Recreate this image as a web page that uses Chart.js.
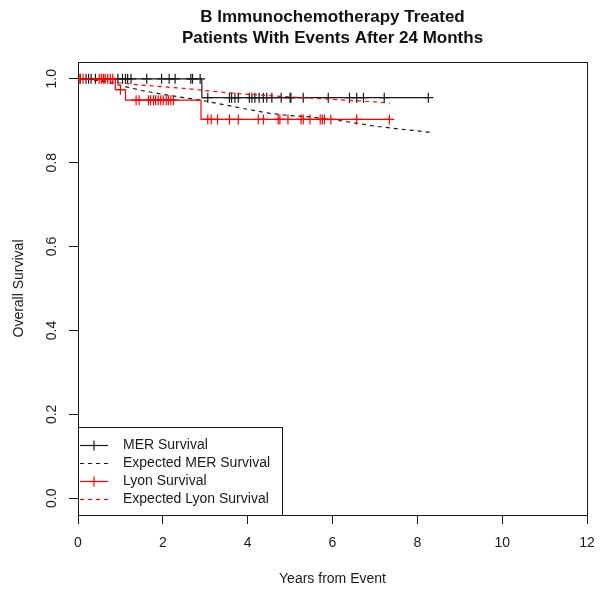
<!DOCTYPE html>
<html>
<head>
<meta charset="utf-8">
<script src="https://cdn.jsdelivr.net/npm/chart.js@4"></script>
<style>
  html, body { margin: 0; padding: 0; background: #fff; }
</style>
</head>
<body>
<canvas id="survChart" width="602" height="591"></canvas>
<script>
// Kaplan-Meier curves: step times (years) and survival after each drop
const merStepTimes = [0, 2.92];
const merStepSurv = [1.0, 0.955];
const merCensorTimes = [0.05, 0.19, 0.25, 0.31, 0.41, 0.94, 1.05, 1.12, 1.17, 1.25, 1.62, 1.97, 2.15, 2.29,
  2.66, 2.70, 2.88, 3.06, 3.57, 3.62, 3.70, 3.78, 4.04, 4.10, 4.17, 4.27, 4.37, 4.45, 4.57, 4.79, 5.00, 5.02,
  5.31, 5.90, 6.40, 6.57, 6.73, 7.22, 8.26];

const lyonStepTimes = [0, 0.88, 1.12, 2.90];
const lyonStepSurv = [1.0, 0.974, 0.949, 0.903];
const lyonCensorTimes = [0.05, 0.12, 0.50, 0.55, 0.60, 0.64, 0.70, 0.76, 0.82, 1.00, 1.37, 1.44, 1.66, 1.71,
  1.78, 1.83, 1.89, 1.95, 2.01, 2.08, 2.13, 2.19, 2.25, 3.06, 3.14, 3.29, 3.57, 3.78, 4.25, 4.37, 4.72, 4.76,
  4.95, 5.26, 5.31, 5.47, 5.71, 5.76, 5.81, 5.96, 6.57, 7.34];

// expected survival (population)
const merExpTimes = [0, 0.25, 0.5, 0.9, 1.0, 1.5, 2.0, 2.5, 3.0, 3.5, 4.0, 4.5, 5.0, 5.5, 6.0, 6.5, 7.0, 7.5, 8.0, 8.3];
const merExpSurv = [1.0, 0.999, 0.995, 0.987, 0.984, 0.972, 0.963, 0.955, 0.947, 0.937, 0.927, 0.918, 0.912, 0.909, 0.903, 0.895, 0.887, 0.881, 0.876, 0.872];
const lyonExpTimes = [0, 0.5, 1.0, 1.5, 2.0, 2.5, 3.0, 3.5, 4.0, 4.5, 5.0, 5.5, 6.0, 6.5, 7.0, 7.35];
const lyonExpSurv = [1.0, 0.997, 0.990, 0.985, 0.981, 0.977, 0.972, 0.967, 0.963, 0.960, 0.957, 0.954, 0.951, 0.948, 0.945, 0.942];

const xTicks = [0, 2, 4, 6, 8, 10, 12];
const yTicks = [0, 0.2, 0.4, 0.6, 0.8, 1.0];

const FONT = "'Liberation Sans', Arial, sans-serif";
const INK = "#1a1a1a";

Chart.defaults.font.family = FONT;
Chart.defaults.color = INK;

function kmPoints(stepTimes, stepSurv, censorTimes) {
  const pts = stepTimes.map((t, i) => ({ x: t, y: stepSurv[i], censor: false }));
  censorTimes.forEach(t => {
    let s = stepSurv[0];
    stepTimes.forEach((st, i) => { if (st <= t) s = stepSurv[i]; });
    pts.push({ x: t, y: s, censor: true });
  });
  pts.sort((a, b) => a.x - b.x || (a.censor - b.censor));
  return pts;
}

function curve(times, surv) {
  return times.map((t, i) => ({ x: t, y: surv[i] }));
}

// plot frame like R's box()
const boxPlugin = {
  id: "box",
  beforeDatasetsDraw(chart) {
    const { ctx, chartArea: a } = chart;
    ctx.save();
    ctx.strokeStyle = INK;
    ctx.lineWidth = 1;
    ctx.strokeRect(a.left + 0.5, a.top + 0.5, a.right - a.left, a.bottom - a.top);
    ctx.restore();
  }
};

// rotated y tick labels (R las = 0)
const yLabelPlugin = {
  id: "yLabels",
  afterDraw(chart) {
    const { ctx } = chart;
    const ys = chart.scales.y;
    ctx.save();
    ctx.fillStyle = INK;
    ctx.font = "14px " + FONT;
    ctx.textAlign = "center";
    ctx.textBaseline = "middle";
    yTicks.forEach(v => {
      ctx.save();
      ctx.translate(52, ys.getPixelForValue(v));
      ctx.rotate(-Math.PI / 2);
      ctx.fillText(v.toFixed(1), 0, 0);
      ctx.restore();
    });
    ctx.restore();
  }
};

// legend box at the bottom-left corner of the plot
const legendPlugin = {
  id: "rLegend",
  afterDatasetsDraw(chart) {
    const { ctx, chartArea: a } = chart;
    const w = 204, h = 88;
    const x0 = a.left, y0 = a.bottom - h;
    ctx.save();
    ctx.fillStyle = "#fff";
    ctx.fillRect(x0, y0, w, h);
    ctx.strokeStyle = INK;
    ctx.lineWidth = 1;
    ctx.strokeRect(x0 + 0.5, y0 + 0.5, w, h);
    ctx.font = "14px " + FONT;
    ctx.textBaseline = "middle";
    chart.data.datasets.forEach((ds, i) => {
      const y = Math.round(y0 + 18 + i * 18) + 0.5;
      ctx.strokeStyle = ds.borderColor;
      ctx.lineWidth = 1.2;
      ctx.setLineDash(ds.borderDash || []);
      ctx.beginPath();
      ctx.moveTo(x0 + 2, y);
      ctx.lineTo(x0 + 30, y);
      ctx.stroke();
      ctx.setLineDash([]);
      if (ds.stepped) {
        ctx.beginPath();
        ctx.moveTo(x0 + 16, y - 5);
        ctx.lineTo(x0 + 16, y + 5);
        ctx.stroke();
      }
      ctx.fillStyle = INK;
      ctx.fillText(ds.label, x0 + 45, y);
    });
    ctx.restore();
  }
};

const censorRadius = c => (c.raw && c.raw.censor ? 5 : 0);

new Chart(document.getElementById("survChart"), {
  type: "line",
  data: {
    datasets: [
      {
        label: "MER Survival",
        data: kmPoints(merStepTimes, merStepSurv, merCensorTimes),
        borderColor: INK,
        borderWidth: 1.2,
        stepped: true,
        pointStyle: "cross",
        pointRadius: censorRadius,
        pointHoverRadius: censorRadius,
        pointBorderColor: INK,
        pointBorderWidth: 1.2,
        order: 4
      },
      {
        label: "Expected MER Survival",
        data: curve(merExpTimes, merExpSurv),
        borderColor: INK,
        borderWidth: 1.2,
        borderDash: [4, 4],
        pointRadius: 0,
        order: 3
      },
      {
        label: "Lyon Survival",
        data: kmPoints(lyonStepTimes, lyonStepSurv, lyonCensorTimes),
        borderColor: "#ff0000",
        borderWidth: 1.2,
        stepped: true,
        pointStyle: "cross",
        pointRadius: censorRadius,
        pointHoverRadius: censorRadius,
        pointBorderColor: "#ff0000",
        pointBorderWidth: 1.2,
        order: 2
      },
      {
        label: "Expected Lyon Survival",
        data: curve(lyonExpTimes, lyonExpSurv),
        borderColor: "#ff0000",
        borderWidth: 1.2,
        borderDash: [4, 4],
        pointRadius: 0,
        order: 1
      }
    ]
  },
  options: {
    responsive: false,
    animation: false,
    devicePixelRatio: 1,
    layout: { padding: { top: 0, right: 15, bottom: 0, left: 0 } },
    plugins: {
      legend: { display: false },
      tooltip: { enabled: false },
      title: {
        display: true,
        fullSize: false,
        text: ["B Immunochemotherapy Treated", "Patients With Events After 24 Months"],
        color: "#111",
        font: { size: 17, weight: "bold", lineHeight: 21 / 17 },
        padding: { top: 7, bottom: 13 }
      }
    },
    scales: {
      x: {
        type: "linear",
        min: 0,
        max: 12,
        afterBuildTicks: s => { s.ticks = xTicks.map(v => ({ value: v })); },
        ticks: { color: INK, font: { size: 14 }, padding: 11, maxRotation: 0, autoSkip: false },
        grid: { drawOnChartArea: false, tickLength: 9, color: INK },
        border: { color: INK },
        title: { display: true, text: "Years from Event", color: INK, font: { size: 14 }, padding: { top: 0, bottom: 3 } },
        afterFit: s => { s.height = 76; s.paddingLeft = 0; s.paddingRight = 0; }
      },
      y: {
        type: "linear",
        min: -0.04,
        max: 1.04,
        afterBuildTicks: s => { s.ticks = yTicks.map(v => ({ value: v })); },
        ticks: { display: false },
        grid: { drawOnChartArea: false, tickLength: 9, color: INK },
        border: { color: INK },
        title: { display: true, text: "Overall Survival", color: INK, font: { size: 14 }, padding: { top: 11, bottom: 0 } },
        afterFit: s => { s.width = 78; s.paddingTop = 0; s.paddingBottom = 0; }
      }
    }
  },
  plugins: [boxPlugin, legendPlugin, yLabelPlugin]
});
</script>
</body>
</html>
